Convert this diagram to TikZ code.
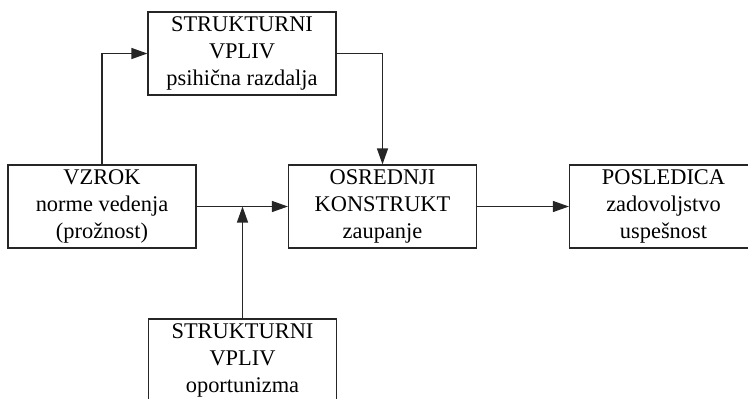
\documentclass[tikz,border=0pt]{standalone}
\usepackage{fontspec}
\setmainfont{Liberation Serif}
\usetikzlibrary{arrows.meta}

\begin{document}
\begin{tikzpicture}[x=0.5pt,y=-0.5pt,
  every node/.style={font=\fontsize{11.2}{13.4}\selectfont},
  blok/.style={draw=black!85,line width=0.6pt,minimum width=94pt,minimum height=41.5pt,
    inner sep=1pt,align=center},
  pusica/.style={draw=black!85,line width=0.6pt,-{Triangle[length=8pt,width=5.5pt]}}]
\useasboundingbox (0,0) rectangle (748,398);
\clip (0,0) rectangle (748,398);
\node[blok] (vzrok) at (102,206.5) {VZROK\\norme vedenja\\(prožnost)};
\node[blok] (vplivA) at (242,53.5) {STRUKTURNI\\VPLIV\\psihična razdalja};
\node[blok] (jedro) at (382.5,206.5) {OSREDNJI\\KONSTRUKT\\zaupanje};
\node[blok] (posledica) at (663.5,206.5) {POSLEDICA\\zadovoljstvo\\uspešnost};
\node[blok] (vplivB) at (242.5,360.5) {STRUKTURNI\\VPLIV\\oportunizma};
\coordinate (stik) at (vplivB.north |- vzrok.east);
\draw[pusica] (vzrok.north) |- (vplivA.west);
\draw[pusica] (vplivA.east) -| (jedro.north);
\draw[pusica] (vzrok.east) -- (jedro.west);
\draw[pusica] (vplivB.north) -- (stik);
\draw[pusica] (jedro.east) -- (posledica.west);
\end{tikzpicture}
\end{document}
